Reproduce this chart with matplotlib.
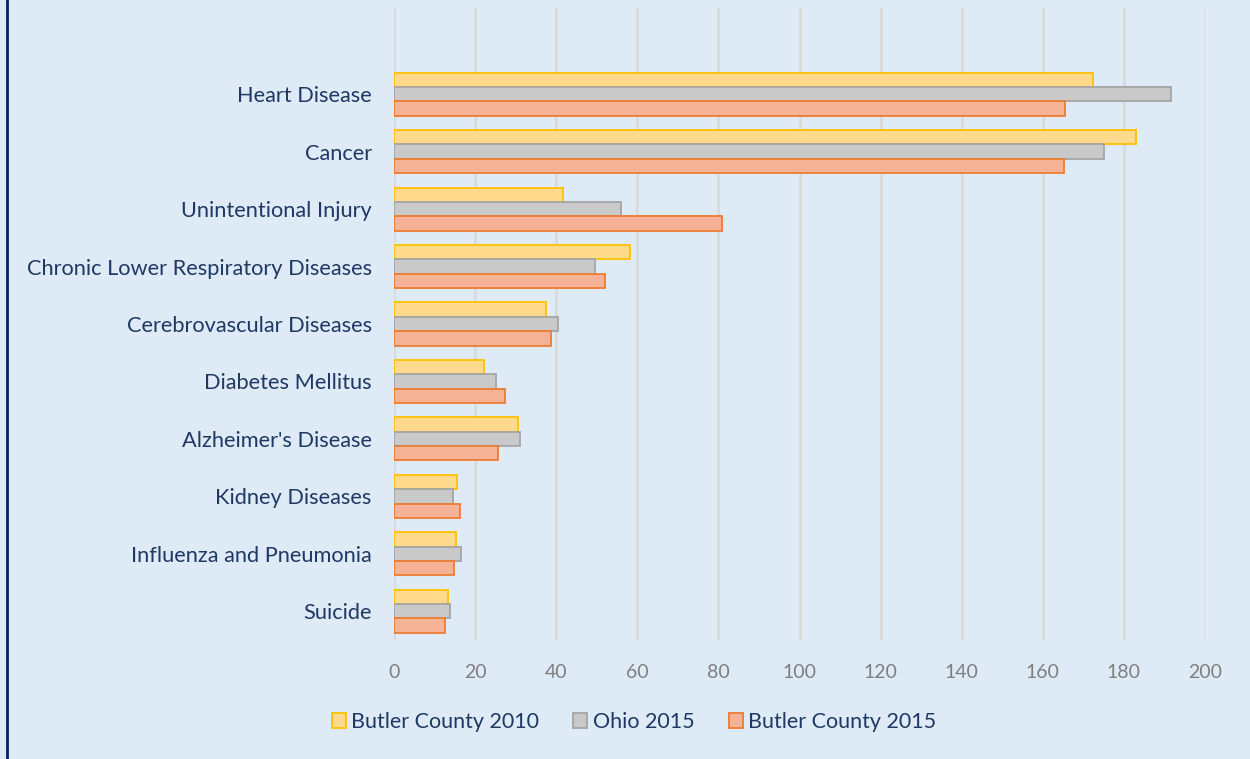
import matplotlib
matplotlib.use("Agg")
import matplotlib.pyplot as plt
import numpy as np

categories = ["Heart Disease", "Cancer", "Unintentional Injury",
              "Chronic Lower Respiratory Diseases", "Cerebrovascular Diseases",
              "Diabetes Mellitus", "Alzheimer's Disease", "Kidney Diseases",
              "Influenza and Pneumonia", "Suicide"]
butler_2010 = [172.4, 183.0, 41.7, 58.2, 37.5, 22.2, 30.6, 15.5, 15.3, 13.2]
ohio_2015 = [191.6, 175.1, 56.0, 49.6, 40.4, 25.2, 31.1, 14.5, 16.6, 13.9]
butler_2015 = [165.5, 165.2, 80.9, 52.0, 38.7, 27.4, 25.6, 16.3, 14.8, 12.7]
series_names = ["Butler County 2010", "Ohio 2015", "Butler County 2015"]
xticks = [0, 20, 40, 60, 80, 100, 120, 140, 160, 180, 200]

plt.rcParams['font.family'] = ['Lato', 'DejaVu Sans']

bg = "#DEEAF6"
fig = plt.figure(figsize=(12.5, 7.59), dpi=100, facecolor=bg)
W, H = 1250, 759
ax = fig.add_axes([394 / W, 1 - 640 / H, (1205 - 394) / W, (640 - 8) / H])
ax.set_facecolor(bg)

fills = ["#FFDA8C", "#C9C9C9", "#F5B297"]
edges = ["#FFC000", "#A5A5A5", "#ED7D31"]
series = [butler_2010, ohio_2015, butler_2015]
y = np.arange(len(categories))
h = 0.25
offsets = [-h, 0, h]
for vals, name, fc, ec, off in zip(series, series_names, fills, edges, offsets):
    ax.barh(y + off, vals, height=h, color=fc, edgecolor=ec, linewidth=1.3,
            label=name, zorder=3)

ax.set_ylim(len(categories) - 0.5, -1.5)
ax.set_xlim(0, 200)
ax.set_xticks(xticks)
ax.set_yticks(y)
ax.set_yticklabels(categories, fontsize=15.7, color="#1F3864")
ax.tick_params(axis='x', labelsize=14, labelcolor="#7F7F7F", length=0, pad=17)
ax.tick_params(axis='y', length=0, pad=16)
ax.grid(axis='x', color="#D9D9D9", linewidth=1.8, zorder=0)
ax.grid(axis='y', visible=False)
for s in ax.spines.values():
    s.set_visible(False)

fig.legend(loc="center", bbox_to_anchor=(634 / W, 1 - 722 / H), ncol=3,
           frameon=False, fontsize=15.5, labelcolor="#1F3864",
           handlelength=0.65, handleheight=0.65, handletextpad=0.25,
           columnspacing=1.6)

fig.add_artist(plt.Line2D([7 / W, 7 / W], [0, 1], transform=fig.transFigure,
                          color="#002060", linewidth=2))

fig.savefig("out.png", dpi=100, facecolor=bg)
